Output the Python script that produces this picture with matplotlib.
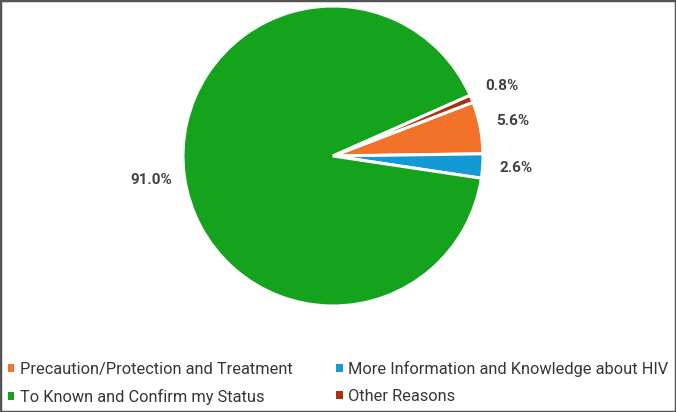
import matplotlib
matplotlib.use("Agg")
import matplotlib.pyplot as plt
from matplotlib.patches import Rectangle, Patch

categories = ["Precaution/Protection and Treatment",
              "More Information and Knowledge about HIV",
              "To Known and Confirm my Status",
              "Other Reasons"]
values = [5.6, 2.6, 91.0, 0.8]
colors = ["#F2722A", "#1399D4", "#15A21C", "#A8330F"]

plt.rcParams['font.family'] = ['Roboto', 'DejaVu Sans']

fig = plt.figure(figsize=(6.76, 4.12), dpi=100)
W, H = 676, 412
cx, cy, r = 333, 156, 150
ax = fig.add_axes([(cx - r) / W, (H - cy - r) / H, 2 * r / W, 2 * r / H])
wedges, texts, autotexts = ax.pie(
    values, colors=colors, startangle=21.0, counterclock=False,
    autopct=lambda p: f"{p:.1f}%", pctdistance=1.22,
    wedgeprops=dict(edgecolor="white", linewidth=2.2),
    textprops=dict(fontsize=11, fontweight="bold", color="#404040"))
ax.set_xlim(-1, 1)
ax.set_ylim(-1, 1)
ax.set_aspect("equal")

order = [0, 2, 1, 3]
handles = [Patch(facecolor=colors[i], edgecolor="none") for i in order]
labels = [categories[i] for i in order]
fig.legend(handles, labels, ncol=2, loc="upper left",
           bbox_to_anchor=(0.0, (H - 352.5) / H), frameon=False,
           fontsize=11.8, labelcolor="#363636",
           handlelength=0.38, handleheight=0.38, handletextpad=0.35,
           labelspacing=0.75, columnspacing=2.65, borderaxespad=0.0,
           borderpad=0.5)

fig.patches.append(Rectangle((0, 0), 1, 1, transform=fig.transFigure,
                             fill=False, edgecolor="#555555", linewidth=2.5))
fig.savefig("out.png", dpi=100, facecolor="white")
